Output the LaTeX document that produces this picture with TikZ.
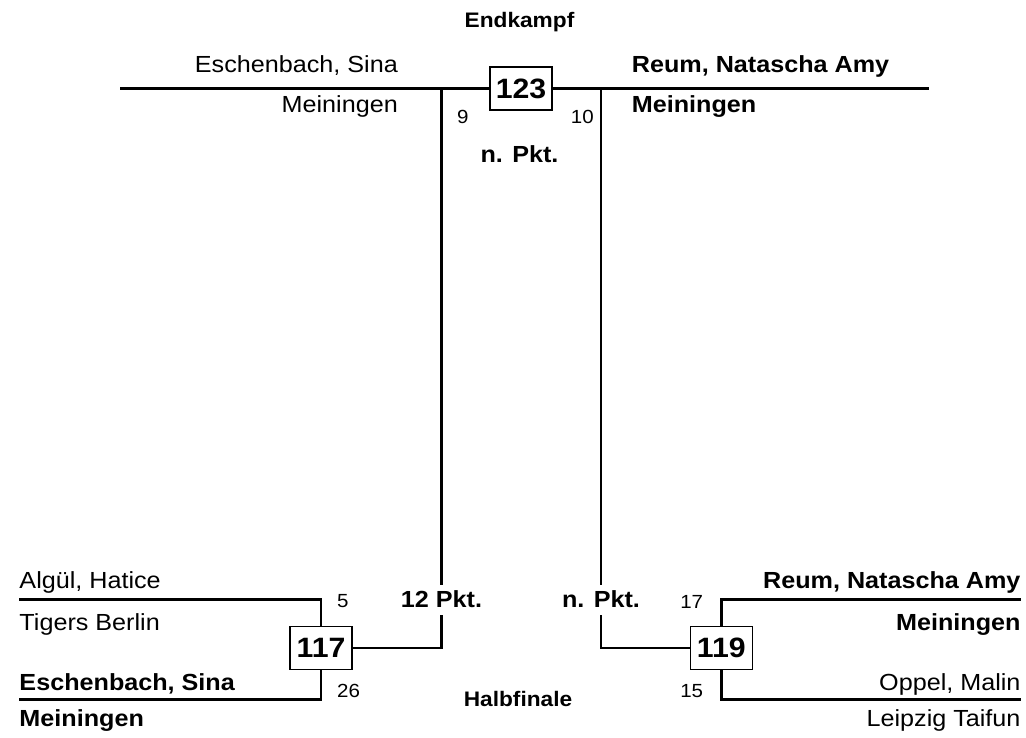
\documentclass[tikz,border=0pt]{standalone}
\usepackage{fontspec}
\setmainfont{Liberation Sans}[FakeStretch=1.08]
\usetikzlibrary{positioning}
\tikzstyle{bracket}=[line width=2.5pt]
\tikzstyle{match}=[rectangle,draw,line width=1.3pt,fill=white,inner sep=0pt,minimum width=62pt,minimum height=43pt,font=\fontsize{28}{30}\selectfont\bfseries]
\tikzstyle{player}=[inner sep=0pt,font=\fontsize{23.3}{28}\selectfont]
\tikzstyle{winner}=[player,font=\fontsize{23.3}{28}\selectfont\bfseries]
\tikzstyle{seed}=[inner sep=0pt,font=\fontsize{19}{22}\selectfont]
\tikzstyle{result}=[winner,fill=white,text height=17pt,text depth=3pt,inner xsep=2pt,inner ysep=5pt]
\tikzstyle{round}=[inner sep=0pt,font=\fontsize{21}{24}\selectfont\bfseries]
\begin{document}
\begin{tikzpicture}[x=1pt,y=1pt]
\useasboundingbox (0,0) rectangle (1026,-738);

% Endkampf
\node (final title) [round,anchor=base] at (519.5,-27.3) {Endkampf};
\node (m123) [match] at (521,-88.5) {123};
\coordinate (f left) at (120,-88.5);
\coordinate (f right) at (929.3,-88.5);
\coordinate (j9) at (441.5,-88.5);
\coordinate (j10) at (601,-88.5);
\draw [bracket] (f left) -- (m123.west);
\draw [bracket] (m123.east) -- (f right);
\node (f name a) [player,anchor=base east] at (398,-73) {Eschenbach, Sina};
\node (f club a) [player,anchor=base east] at (398,-113) {Meiningen};
\node (f name b) [winner,anchor=base west] at (631.7,-73) {Reum, Natascha Amy};
\node (f club b) [winner,anchor=base west] at (631.7,-113) {Meiningen};
\node (s9) [seed,anchor=base west] at (457,-124) {9};
\node (s10) [seed,anchor=base east] at (594,-124) {10};
\node (f result) [winner,anchor=base] at (519.5,-163) {n. Pkt.};

% Halbfinale
\node (semi title) [round,anchor=base] at (518,-706.7) {Halbfinale};
\node (m117) [match] at (321,-648) {117};
\node (m119) [match] at (721.3,-648) {119};
\node (r117) [result,anchor=base] at (441.5,-607) {12 Pkt.};
\node (r119) [result,anchor=base] at (601,-607) {n. Pkt.};
\draw [bracket] (j9) -- (r117);
\draw [bracket] (r117) |- (m117);
\draw [bracket] (j10) -- (r119);
\draw [bracket] (r119) |- (m119);

\coordinate (a top) at (19.3,-599.3);
\coordinate (a bottom) at (19.3,-699.3);
\coordinate (b top) at (1020.7,-599.3);
\coordinate (b bottom) at (1020.7,-699.3);
\draw [bracket] (a top) -| (m117);
\draw [bracket] (a bottom) -| (m117);
\draw [bracket] (b top) -| (m119);
\draw [bracket] (b bottom) -| (m119);

\node (a name 1) [player,anchor=base west] at (19.3,-588) {Algül, Hatice};
\node (a club 1) [player,anchor=base west] at (19.3,-630) {Tigers Berlin};
\node (a name 2) [winner,anchor=base west] at (19.3,-690) {Eschenbach, Sina};
\node (a club 2) [winner,anchor=base west] at (19.3,-726.7) {Meiningen};
\node (b name 1) [winner,anchor=base east] at (1020.7,-588) {Reum, Natascha Amy};
\node (b club 1) [winner,anchor=base east] at (1020.7,-630) {Meiningen};
\node (b name 2) [player,anchor=base east] at (1020.7,-690) {Oppel, Malin};
\node (b club 2) [player,anchor=base east] at (1020.7,-726.7) {Leipzig Taifun};

\node (s5) [seed,anchor=base west] at (337,-607) {5};
\node (s26) [seed,anchor=base west] at (337,-697) {26};
\node (s17) [seed,anchor=base east] at (703.3,-608) {17};
\node (s15) [seed,anchor=base east] at (703.3,-697) {15};

\end{tikzpicture}
\end{document}
